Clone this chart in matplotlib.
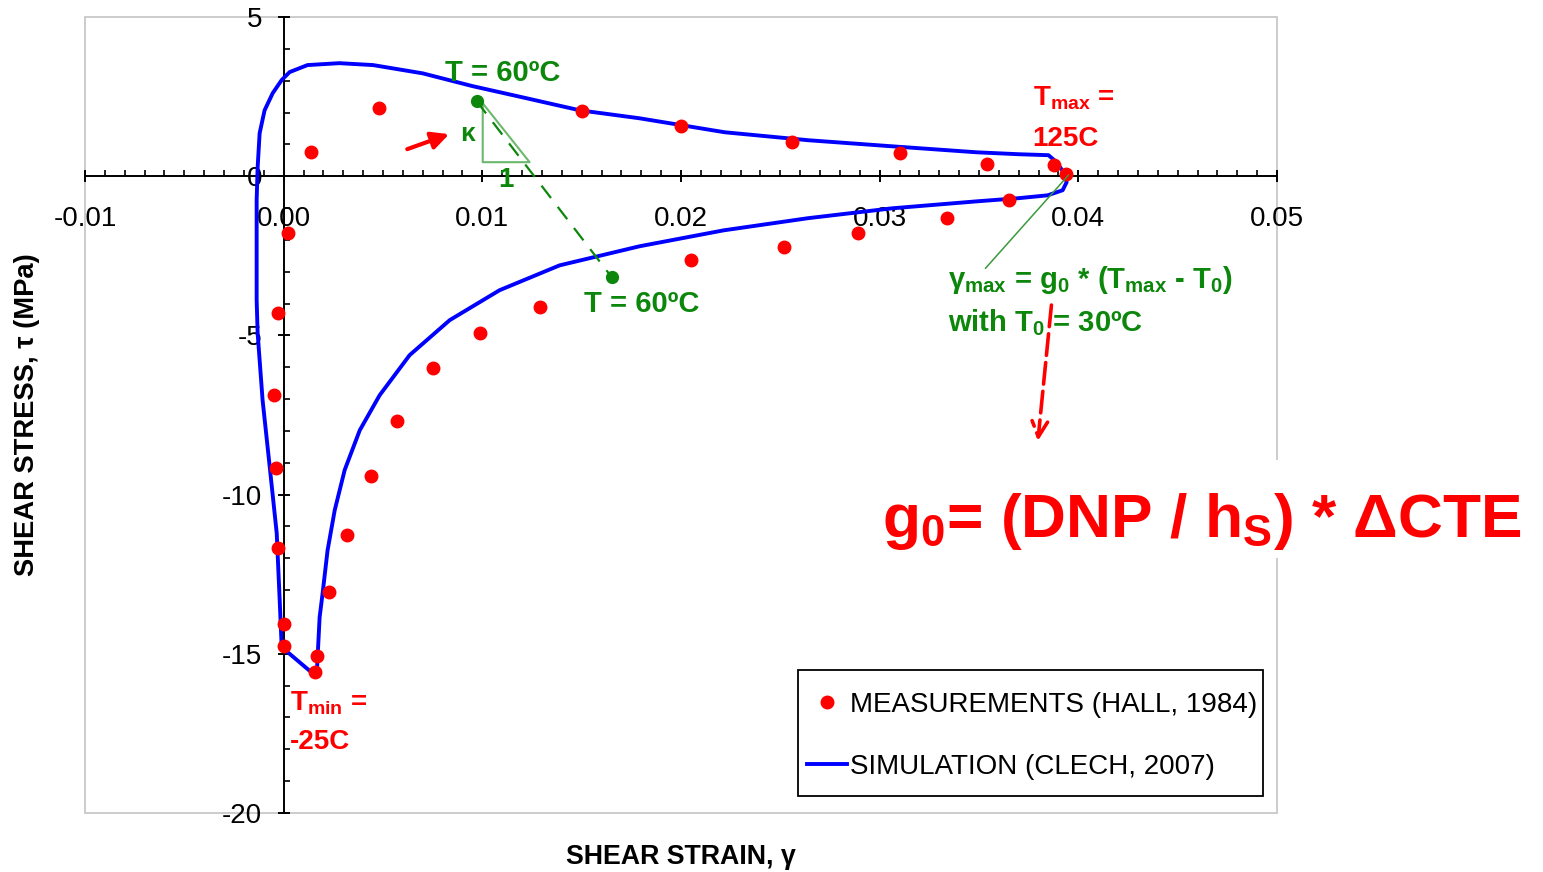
import numpy as np
import matplotlib
matplotlib.use("Agg")
import matplotlib.pyplot as plt
from matplotlib.patches import Rectangle

# measured points (Hall, 1984): shear strain, shear stress [MPa]
MEAS_GAMMA = [0.0394, 0.0388, 0.0354, 0.0310, 0.0256, 0.0200, 0.0150, 0.0048, 0.0014,
              0.0002, -0.0003, -0.0005, -0.0004, -0.0003, 0.0000, 0.0000,
              0.0016, 0.0017, 0.0023, 0.0032, 0.0044, 0.0057, 0.0075, 0.0099, 0.0129,
              0.0205, 0.0252, 0.0289, 0.0334, 0.0365]
MEAS_TAU = [0.06, 0.35, 0.38, 0.72, 1.07, 1.57, 2.04, 2.14, 0.75,
            -1.79, -4.30, -6.88, -9.17, -11.68, -14.07, -14.76,
            -15.58, -15.08, -13.07, -11.28, -9.42, -7.69, -6.03, -4.93, -4.11,
            -2.62, -2.22, -1.77, -1.31, -0.75]

# simulated hysteresis loop (Clech, 2007)
SIM_GAMMA = [0.0393, 0.0389, 0.0385, 0.0370, 0.0349, 0.0306, 0.0264, 0.0222, 0.0179,
             0.0149, 0.0120, 0.0095, 0.0070, 0.0045, 0.0028, 0.0012, 0.0003, -0.0001,
             -0.00055, -0.00096, -0.00121, -0.00131, -0.00136, -0.00136, -0.00131,
             -0.00106, -0.00070, -0.00035, -0.00020, -0.00010, 0.00166, 0.00171,
             0.00181, 0.00196, 0.00221, 0.00257, 0.00307, 0.00383, 0.00483, 0.00634,
             0.00836, 0.01087, 0.01389, 0.01792, 0.02215, 0.02638, 0.03060, 0.03488,
             0.03700, 0.03846, 0.03921, 0.03941, 0.0393]
SIM_TAU = [0.09, 0.44, 0.66, 0.69, 0.75, 0.94, 1.13, 1.38, 1.82,
           2.07, 2.48, 2.83, 3.23, 3.49, 3.55, 3.49, 3.27, 3.02,
           2.61, 2.07, 1.35, 0.28, -0.75, -3.89, -4.93,
           -7.04, -9.14, -11.21, -13.32, -14.79, -15.72, -15.08,
           -13.85, -13.10, -11.75, -10.49, -9.23, -7.98, -6.88, -5.62,
           -4.52, -3.58, -2.80, -2.20, -1.70, -1.32, -1.01, -0.79,
           -0.69, -0.60, -0.44, -0.19, 0.09]

X_TICKS = [-0.01, 0.00, 0.01, 0.02, 0.03, 0.04, 0.05]
Y_TICKS = [5, 0, -5, -10, -15, -20]

RED, BLUE, GREEN = "#ff0000", "#0000ff", "#0c870c"
LGREEN = "#6cb86c"

plt.rcParams.update({
    "font.family": ["Liberation Sans", "DejaVu Sans"],
    "mathtext.fontset": "custom",
    "mathtext.rm": "Liberation Sans",
    "mathtext.it": "Liberation Sans:italic",
    "mathtext.bf": "Liberation Sans:bold",
    "mathtext.default": "bf",
})

fig = plt.figure(figsize=(15.43, 8.72), dpi=100)
ax = fig.add_axes([85/1543, 59/872, 1192/1543, 796/872])
ax.set_xlim(-0.01, 0.05)
ax.set_ylim(-20, 5)

for s in ["top", "right"]:
    ax.spines[s].set_visible(False)
for s in ["left", "bottom"]:
    ax.spines[s].set_position(("data", 0))
    ax.spines[s].set_linewidth(1.4)
ax.add_patch(Rectangle((0, 0), 1, 1, transform=ax.transAxes, fill=False,
                       ec="#c8c8c8", lw=1.3, zorder=0, clip_on=False))

ax.set_xticks(X_TICKS)
ax.set_xticklabels([f"{v:.2f}" for v in X_TICKS])
ax.set_xticks(np.arange(-0.01, 0.0501, 0.001), minor=True)
ax.set_yticks(Y_TICKS)
ax.set_yticklabels([str(v) for v in Y_TICKS])
ax.set_yticks(np.arange(-20, 5.01, 1), minor=True)
ax.tick_params(which="major", direction="inout", length=9, width=1.4, labelsize=20, colors="black")
ax.tick_params(which="minor", direction="in", length=4, width=1.2)
ax.tick_params(axis="x", which="major", pad=17)
ax.tick_params(axis="y", which="major", pad=11)

ax.plot(SIM_GAMMA, SIM_TAU, "-", color=BLUE, lw=2.8, zorder=3, label="SIMULATION (CLECH, 2007)")
ax.plot(MEAS_GAMMA, MEAS_TAU, "o", color=RED, ms=9, ls="none", zorder=4,
        label="MEASUREMENTS (HALL, 1984)")

# 60C slope construction
ax.plot([0.01002, 0.01002, 0.01238, 0.01002], [2.29, 0.44, 0.44, 2.29], "-", color=LGREEN, lw=1.5, zorder=2)
ax.plot([0.00971, 0.01651], [2.36, -3.17], "--", color=GREEN, lw=1.6, dashes=(7, 5), zorder=5)
ax.plot([0.00971, 0.01651], [2.36, -3.17], "o", color=GREEN, ms=8.5, zorder=6)
ax.text(0.01102, 3.23, "T = 60ºC", color=GREEN, fontsize=21, fontweight="bold", ha="center", va="center")
ax.text(0.01802, -4.02, "T = 60ºC", color=GREEN, fontsize=21, fontweight="bold", ha="center", va="center")
ax.text(0.00926, 1.32, "κ", color=GREEN, fontsize=19, fontweight="bold", ha="center", va="center")
ax.text(0.01117, -0.13, "1", color=GREEN, fontsize=20, fontweight="bold", ha="center", va="center")
ax.annotate("", xy=(0.00846, 1.35), xytext=(0.00609, 0.82),
            arrowprops=dict(arrowstyle="-|>", color=RED, lw=3, mutation_scale=26))

# Tmax / Tmin labels
ax.text(0.0377, 2.45, r"T$_{max}$ =", color=RED, fontsize=20, fontweight="bold", ha="left", va="center")
ax.text(0.0377, 1.16, "125C", color=RED, fontsize=20, fontweight="bold", ha="left", va="center")
ax.text(0.0003, -16.55, r"T$_{min}$ =", color=RED, fontsize=20, fontweight="bold", ha="left", va="center")
ax.text(0.0003, -17.78, "-25C", color=RED, fontsize=20, fontweight="bold", ha="left", va="center")

# gamma_max note
ax.plot([0.0395, 0.03533], [0.03, -2.89], "-", color="#3a9a3a", lw=1.1, zorder=5)
ax.text(0.03342, -3.27, r"$γ_{max}$ = g$_0$ * (T$_{max}$ - T$_0$)", color=GREEN, fontsize=21,
        fontweight="bold", ha="left", va="center")
ax.text(0.03342, -4.59, r"with T$_0$ = 30ºC", color=GREEN, fontsize=21,
        fontweight="bold", ha="left", va="center")
ax.annotate("", xy=(0.03795, -8.40), xytext=(0.03866, -3.96),
            arrowprops=dict(arrowstyle="->", color=RED, lw=2.6, ls=(0, (6, 2)), mutation_scale=28))

# legend: entries without frame, frame drawn as its own box
ax.legend(handles=ax.lines[1:2] + ax.lines[0:1], loc="center",
          bbox_to_anchor=(0.7945, 0.0967), fontsize=20, frameon=False,
          borderaxespad=0, handlelength=1.45, handletextpad=0.1, labelspacing=1.3, borderpad=0)
ax.add_patch(Rectangle((0.5982, 0.02136), 0.3901, 0.1583, transform=ax.transAxes,
                       fill=False, ec="black", lw=1.3, zorder=7))

fig.text(681/1543, 1 - 857/872, "SHEAR STRAIN, γ", fontsize=19.3, fontweight="bold", ha="center", va="center")
fig.text(27/1543, 1 - 415/872, "SHEAR STRESS, τ (MPa)", fontsize=19.7, fontweight="bold",
         ha="center", va="center", rotation=90)

# big formula on a white patch
fig.patches.append(Rectangle((862/1543, 1 - 558/872), 681/1543, 98/872, transform=fig.transFigure,
                             fc="white", ec="none", zorder=10))
fig.text(882/1543, 1 - 537/872, r"g$_0$= (DNP / h$_S$) * ΔCTE", color=RED, fontsize=44.8,
         fontweight="bold", ha="left", va="baseline", zorder=11)

fig.savefig("out.png", dpi=100)
